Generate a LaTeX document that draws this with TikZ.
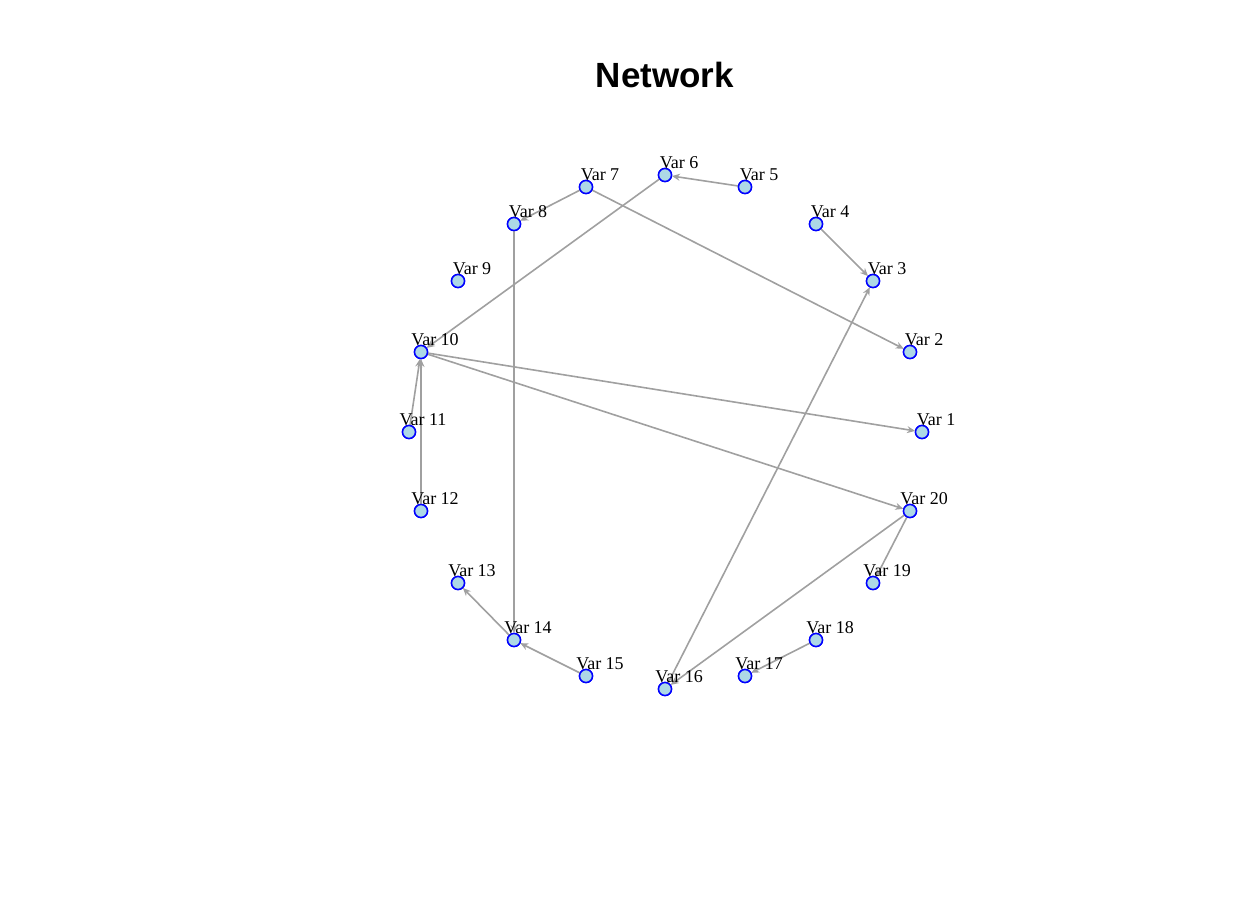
\documentclass[tikz,border=0pt]{standalone}
\usepackage{fontspec}
\setmainfont{Liberation Serif}
\newfontfamily\titlefont{Liberation Sans}
\usetikzlibrary{arrows.meta}
\definecolor{vfill}{HTML}{ADD8E6}
\definecolor{ecol}{HTML}{A0A0A0}
\tikzset{
  vert/.style={circle, draw=blue, fill=vfill, line width=1.5pt, minimum size=13pt, inner sep=0pt, outer sep=0pt},
  vlab/.style={font=\fontsize{18}{18}\selectfont, inner sep=0pt, anchor=base},
  edge/.style={draw=ecol, line width=1.6pt, -{Stealth[length=8pt,width=7pt]}, shorten >=0.5pt},
  plain/.style={draw=ecol, line width=1.6pt}
}
\begin{document}
\begin{tikzpicture}[x=1pt,y=-1pt]
\useasboundingbox (0,0) rectangle (1260,900);
\node[font=\titlefont\bfseries\fontsize{35}{35}\selectfont] (title) at (665,75) {Network};
% vertices
\foreach \n/\x/\y in {1/922/432, 2/910/352, 3/873/281, 4/816/224, 5/745/187, 6/665/175, 7/586/187, 8/514/224, 9/458/281, 10/421/352, 11/409/432, 12/421/511, 13/458/583, 14/514/640, 15/586/676, 16/665/689, 17/745/676, 18/816/640, 19/873/583, 20/910/511}{
  \node[vert] (v\n) at (\x,\y) {};
}
% edges
\draw[edge] (v5) -- (v6);
\draw[edge] (v7) -- (v8);
\draw[edge] (v7) -- (v2);
\draw[edge] (v4) -- (v3);
\draw[edge] (v6) -- (v10);
\draw[edge] (v8) -- (v14);
\draw[edge] (v10) -- (v1);
\draw[edge] (v10) -- (v20);
\draw[edge] (v11) -- (v10);
\draw[edge] (v12) -- (v10);
\draw[edge] (v14) -- (v13);
\draw[edge] (v15) -- (v14);
\draw[edge] (v16) -- (v3);
\draw[edge] (v20) -- (v16);
\draw[edge] (v20) -- (v19);
\draw[edge] (v18) -- (v17);
% vertices redrawn on top, with labels
\foreach \n/\x/\y in {1/922/432, 2/910/352, 3/873/281, 4/816/224, 5/745/187, 6/665/175, 7/586/187, 8/514/224, 9/458/281, 10/421/352, 11/409/432, 12/421/511, 13/458/583, 14/514/640, 15/586/676, 16/665/689, 17/745/676, 18/816/640, 19/873/583, 20/910/511}{
  \node[vert] (w\n) at (\x,\y) {};
  \node[vlab] (l\n) at (\x+14,\y-7) {Var \n};
}
\end{tikzpicture}
\end{document}
